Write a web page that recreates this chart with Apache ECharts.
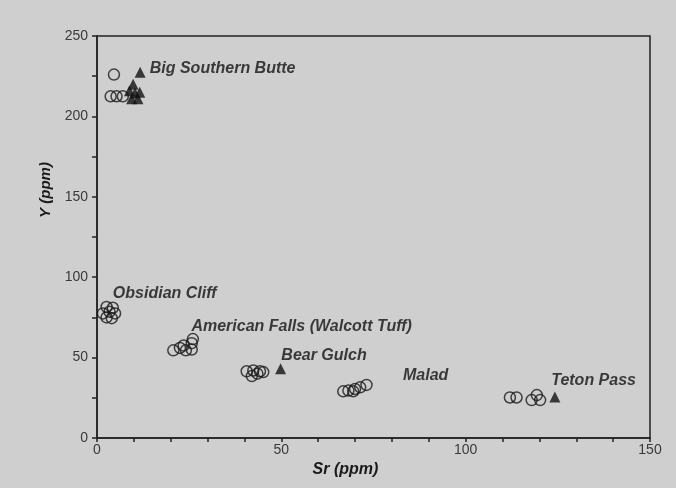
<!DOCTYPE html>
<html><head><meta charset="utf-8">
<script src="https://cdn.jsdelivr.net/npm/echarts@6/dist/echarts.min.js"></script>
<style>html,body{margin:0;padding:0;background:#cfcfcf;}#c{width:676px;height:488px;}</style>
</head><body><div id="c"></div>
<script>
// Open-circle samples [Sr, Y]
const circleBigSouthernButte = [[4.6,226],[3.7,212.5],[5.3,212.5],[7.0,212.5]];
const circleObsidianCliff = [[2.6,81.5],[4.3,81],[1.6,77.5],[4.9,77.5],[2.6,75],[4.0,74.5],[3.4,78.5]];
const circleAmericanFalls = [[20.7,54.5],[22.5,56],[24.1,54.5],[25.7,55],[25.7,59],[26.0,61.5],[23.5,57.5]];
const circleBearGulch = [[40.6,41.5],[42.4,42],[44.2,41.5],[45.1,41],[42.0,38.5],[43.5,40]];
const circleMalad = [[66.8,29],[68.2,29.5],[70.0,30.5],[71.4,31.5],[73.1,33],[69.5,29]];
const circleTetonPass = [[112.0,25.2],[113.8,25.2],[117.9,23.6],[119.3,26.7],[120.2,23.6]];
// Filled-triangle samples [Sr, Y]
const triBigSouthernButte = [[11.7,227.5],[9.8,220],[10.3,214.5],[9.4,211],[11.1,211],[8.8,216],[11.6,215]];
const triBearGulch = [[49.8,43]];
const triTetonPass = [[124.2,25.5]];
// Group labels
const labelNames = ['Big Southern Butte','Obsidian Cliff','American Falls (Walcott Tuff)','Bear Gulch','Malad','Teton Pass'];
const labelX = [14.3, 4.3, 25.6, 50.0, 83.0, 123.2];
const labelY = [229.5, 89.5, 69.5, 51.5, 38.5, 35.5];
// Axis ticks
const xTickLabels = [0,50,100,150];
const yTickLabels = [0,50,100,150,200,250];

const circles = [].concat(circleBigSouthernButte, circleObsidianCliff, circleAmericanFalls, circleBearGulch, circleMalad, circleTetonPass);
const tris = [].concat(triBigSouthernButte, triBearGulch, triTetonPass);
const labels = labelNames.map((n,i)=>({value:[labelX[i],labelY[i]], name:n}));

const chart = echarts.init(document.getElementById('c'), null, {renderer:'canvas'});
const font = 'Liberation Sans, Arial, Helvetica, sans-serif';
chart.setOption({
  backgroundColor:'#cfcfcf',
  animation:false,
  grid:{left:97,right:26,top:36,bottom:50,show:true,borderColor:'#222',borderWidth:1.5,backgroundColor:'transparent'},
  xAxis:{type:'value',min:0,max:150,interval:10,
    name:'Sr (ppm)',nameLocation:'middle',nameGap:22,
    nameTextStyle:{fontFamily:font,fontSize:16,fontWeight:'bold',fontStyle:'italic',color:'#1a1a1a',padding:[0,56,0,0]},
    axisLine:{lineStyle:{color:'#222',width:1.5}},
    axisTick:{length:4,lineStyle:{color:'#222',width:1.5}},
    splitLine:{show:false},
    axisLabel:{fontFamily:font,fontSize:14,color:'#3a3a3a',margin:5,
      formatter:v=>xTickLabels.indexOf(v)>=0?String(v):''}
  },
  yAxis:{type:'value',min:0,max:250,interval:25,
    name:'Y (ppm)',nameLocation:'middle',nameGap:44,nameRotate:90,
    nameTextStyle:{fontFamily:font,fontSize:15,fontWeight:'bold',fontStyle:'italic',color:'#1a1a1a',padding:[0,0,0,94]},
    axisLine:{lineStyle:{color:'#222',width:1.5}},
    axisTick:{length:5,lineStyle:{color:'#222',width:1.5}},
    splitLine:{show:false},
    axisLabel:{fontFamily:font,fontSize:14,color:'#3a3a3a',margin:9,
      formatter:v=>yTickLabels.indexOf(v)>=0?String(v):''}
  },
  series:[
    {type:'scatter',data:circles,symbol:'circle',symbolSize:11,
      itemStyle:{color:'rgba(0,0,0,0)',borderColor:'#1a1a1a',borderWidth:1.5}},
    {type:'scatter',data:tris,symbol:'triangle',symbolSize:11,
      itemStyle:{color:'#111'}},
    {type:'scatter',data:labels,symbolSize:0,silent:true,
      label:{show:true,position:'right',distance:0,formatter:p=>p.name,
        fontFamily:font,fontSize:16,fontWeight:'bold',fontStyle:'italic',color:'#111'}}
  ]
});
</script></body></html>
